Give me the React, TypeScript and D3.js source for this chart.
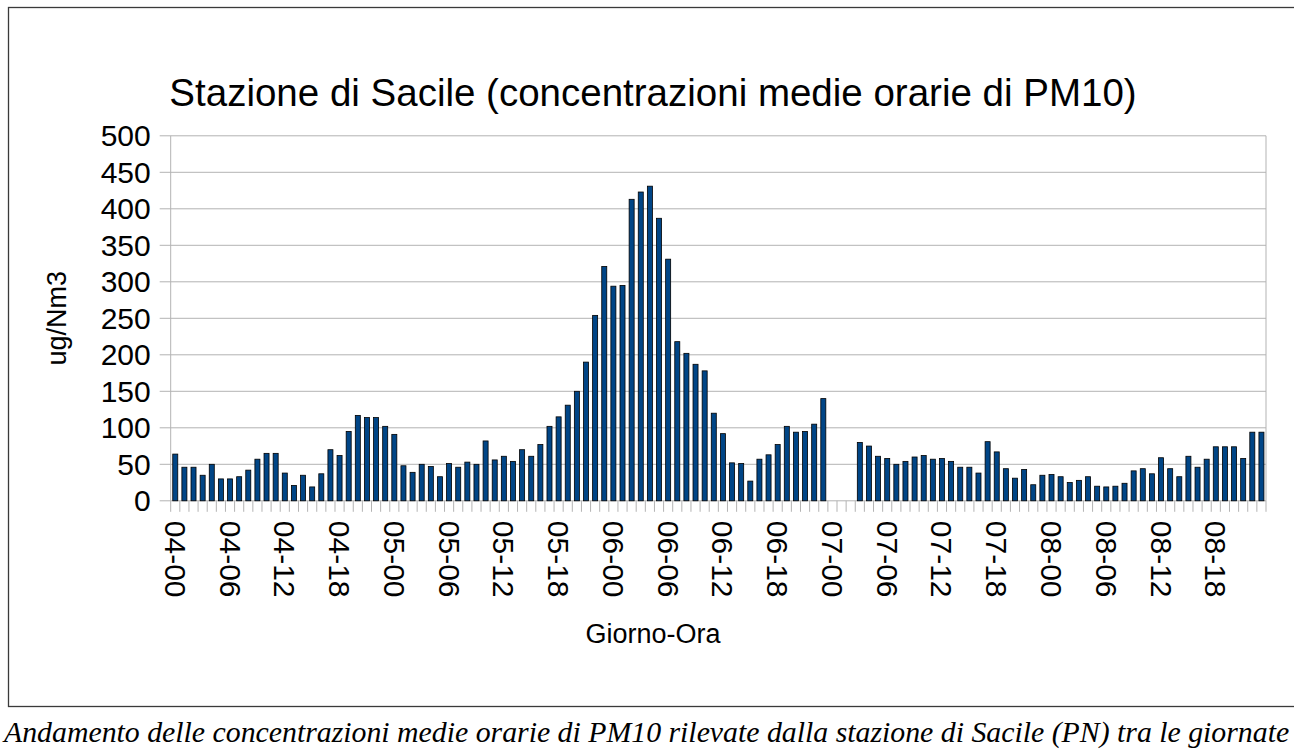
import { useEffect, useRef } from "react";
import * as d3 from "d3";

// hourly PM10 means, 04-00 .. 08-23 (null = no reading)
const DAYS = ["04", "05", "06", "07", "08"];
const VALUES: (number | null)[] = [
  64, 46, 46, 35, 50, 30, 30, 33, 42, 57, 65, 65, 38, 21, 35, 19, 37, 70, 62, 95, 117, 114, 114, 102,
  91, 48, 39, 50, 47, 33, 51, 46, 53, 50, 82, 56, 61, 54, 70, 61, 77, 102, 115, 131, 150, 190, 254, 321,
  294, 295, 413, 423, 431, 387, 331, 218, 202, 187, 178, 120, 92, 52, 51, 27, 57, 63, 77, 102, 94, 95, 105, 140,
  null, null, null, 80, 75, 61, 58, 50, 54, 60, 62, 57, 58, 54, 46, 46, 38, 81, 67, 44, 31, 43, 22, 35,
  36, 33, 25, 28, 33, 20, 19, 20, 24, 41, 44, 37, 59, 44, 33, 61, 46, 57, 74, 74, 74, 58, 94, 94,
];
const CATEGORIES = DAYS.flatMap((d) => d3.range(24).map((h) => `${d}-${String(h).padStart(2, "0")}`));
const Y_TICKS = d3.range(0, 501, 50);

const TITLE = "Stazione di Sacile (concentrazioni medie orarie di PM10)";
const CAPTION =
  "Andamento delle concentrazioni medie orarie di PM10 rilevate dalla stazione di Sacile (PN) tra le giornate";

export default function App() {
  const ref = useRef<SVGSVGElement | null>(null);

  useEffect(() => {
    const W = 1294;
    const H = 749;
    const left = 170.7,
      right = 1266,
      top = 135.8,
      bottom = 500.8;
    const font = "'Liberation Sans', Arial, sans-serif";

    const svg = d3.select(ref.current);
    svg.selectAll("*").remove();
    svg.attr("width", W).attr("height", H);

    // page frame around the chart
    svg
      .append("rect")
      .attr("x", 8.5)
      .attr("y", 7.5)
      .attr("width", W + 10)
      .attr("height", 699)
      .attr("fill", "none")
      .attr("stroke", "#3a3a3a")
      .attr("stroke-width", 1.3);

    const x = d3.scaleBand<string>().domain(CATEGORIES).range([left, right]).paddingInner(0.45).paddingOuter(0.225);
    const y = d3.scaleLinear().domain([0, 500]).range([bottom, top]);
    const step = x.step();

    // grid + y ticks
    svg
      .append("g")
      .selectAll("line")
      .data(Y_TICKS)
      .join("line")
      .attr("x1", left - 11)
      .attr("x2", right)
      .attr("y1", (d) => y(d))
      .attr("y2", (d) => y(d))
      .attr("stroke", "#b3b3b3")
      .attr("stroke-width", 1);

    svg
      .append("g")
      .selectAll("text")
      .data(Y_TICKS)
      .join("text")
      .attr("x", left - 20)
      .attr("y", (d) => y(d) + 10.5)
      .attr("text-anchor", "end")
      .attr("font-family", font)
      .attr("font-size", 30)
      .attr("fill", "#000")
      .text((d) => d);

    // y axis + right border
    svg.append("line").attr("x1", left).attr("x2", left).attr("y1", top).attr("y2", bottom).attr("stroke", "#b3b3b3");
    svg.append("line").attr("x1", right).attr("x2", right).attr("y1", top).attr("y2", bottom).attr("stroke", "#b3b3b3");

    // x ticks at category boundaries
    svg
      .append("g")
      .selectAll("line")
      .data(d3.range(CATEGORIES.length + 1))
      .join("line")
      .attr("x1", (i) => left + i * step)
      .attr("x2", (i) => left + i * step)
      .attr("y1", bottom)
      .attr("y2", bottom + 11)
      .attr("stroke", "#b3b3b3");

    // bars
    const data = CATEGORIES.map((c, i) => ({ c, v: VALUES[i] })).filter((d) => d.v != null) as { c: string; v: number }[];
    svg
      .append("g")
      .selectAll("rect")
      .data(data)
      .join("rect")
      .attr("x", (d) => x(d.c) ?? 0)
      .attr("y", (d) => y(d.v))
      .attr("width", x.bandwidth())
      .attr("height", (d) => bottom - y(d.v))
      .attr("fill", "#004586")
      .attr("stroke", "#000")
      .attr("stroke-width", 0.8);

    // x labels every 6 hours, rotated
    svg
      .append("g")
      .selectAll("text")
      .data(CATEGORIES.filter((_, i) => i % 6 === 0))
      .join("text")
      .attr("transform", (d) => `translate(${(x(d) ?? 0) + x.bandwidth() / 2 - 10.5},${bottom + 20}) rotate(90)`)
      .attr("font-family", font)
      .attr("font-size", 30)
      .attr("fill", "#000")
      .text((d) => d);

    // titles
    svg
      .append("text")
      .attr("x", 653)
      .attr("y", 106)
      .attr("text-anchor", "middle")
      .attr("font-family", font)
      .attr("font-size", 38.5)
      .text(TITLE);
    svg
      .append("text")
      .attr("x", 653)
      .attr("y", 643)
      .attr("text-anchor", "middle")
      .attr("font-family", font)
      .attr("font-size", 27)
      .text("Giorno-Ora");
    svg
      .append("text")
      .attr("transform", `translate(66,${(top + bottom) / 2}) rotate(-90)`)
      .attr("text-anchor", "middle")
      .attr("font-family", font)
      .attr("font-size", 27)
      .text("ug/Nm3");

    svg
      .append("text")
      .attr("x", 4)
      .attr("y", 742)
      .attr("font-family", "'Liberation Serif', 'Times New Roman', serif")
      .attr("font-style", "italic")
      .attr("font-size", 29.8)
      .text(CAPTION);
  }, []);

  return <svg ref={ref} style={{ position: "absolute", left: 0, top: 0 }} />;
}
